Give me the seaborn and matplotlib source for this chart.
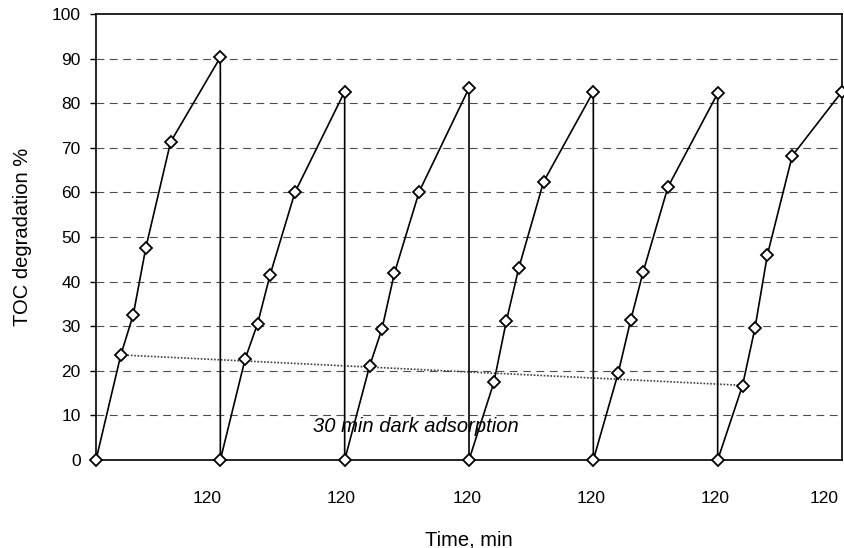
import numpy as np
import matplotlib.pyplot as plt
import matplotlib.transforms as mtransforms
import seaborn as sns

# one cycle: 30 min dark adsorption, then light at 15, 30, 60, 120 min
cycle_minutes = [0, 30, 45, 60, 90, 150]
cycle_length = 150

# TOC degradation %, six reuse cycles
cycle_1 = [0, 23.6, 32.6, 47.5, 71.3, 90.3]
cycle_2 = [0, 22.7, 30.6, 41.5, 60.0, 82.6]
cycle_3 = [0, 21.0, 29.4, 41.9, 60.2, 83.4]
cycle_4 = [0, 17.4, 31.1, 43.0, 62.4, 82.6]
cycle_5 = [0, 19.5, 31.3, 42.1, 61.2, 82.2]
cycle_6 = [0, 16.7, 29.6, 46.0, 68.2, 82.6]
cycles = [cycle_1, cycle_2, cycle_3, cycle_4, cycle_5, cycle_6]

tick_label = '120'
note = '30 min dark adsorption'

# ------------------------------------------------------------
times, values = [], []
for k, vals in enumerate(cycles):
    times += [k * cycle_length + t for t in cycle_minutes]
    values += vals

dark_t = np.array([k * cycle_length + cycle_minutes[1] for k in range(len(cycles))])
dark_v = np.array([c[1] for c in cycles])

sns.set_theme(style='white')
plt.rcParams['font.family'] = ['Liberation Sans', 'DejaVu Sans']

fig = plt.figure(figsize=(8.44, 5.48), dpi=100)
ax = fig.add_axes([96 / 844, 1 - 460 / 548, 746 / 844, 446 / 548])

# horizontal dashed grid
for yv in range(10, 100, 10):
    ax.axhline(yv, color='0.3', lw=0.8, ls=(0, (7, 5)), zorder=0)

# linear trend through the dark adsorption values
sns.regplot(x=dark_t, y=dark_v, ci=None, scatter=False, truncate=True, ax=ax,
            line_kws=dict(color='0.25', lw=1.2, ls=(0, (1, 1)), zorder=2))

sns.lineplot(x=times, y=values, estimator=None, sort=False, ax=ax,
             color='black', lw=1.2, marker='D', markersize=6.5,
             markerfacecolor='white', markeredgecolor='black',
             markeredgewidth=1.3, clip_on=False, zorder=3)

ax.set_xlim(0, cycle_length * len(cycles))
ax.set_ylim(0, 100)
ax.set_yticks(range(0, 101, 10))
ax.set_xticks([(k + 1) * cycle_length for k in range(len(cycles))])
ax.set_xticklabels([tick_label] * len(cycles))

ax.tick_params(axis='y', left=True, length=4, width=1, color='black',
               pad=7, labelsize=12.5, labelcolor='black')
ax.tick_params(axis='x', bottom=False, length=0, pad=22, labelsize=12.5,
               labelcolor='black')

# labels sit a little left of the cycle boundaries in the original
shifts = [-13, -4, -2, -2, -3, -18]
for lab, dx in zip(ax.get_xticklabels(), shifts):
    lab.set_transform(lab.get_transform() +
                      mtransforms.ScaledTranslation(dx / 100, 0, fig.dpi_scale_trans))

for sp in ax.spines.values():
    sp.set_color('black')
    sp.set_linewidth(1.2)
    sp.set_visible(True)

ax.text(262, 7.5, note, style='italic', fontsize=14.5, ha='left', va='center',
        color='black', zorder=4)

ax.set_xlabel('Time, min', fontsize=14.5, labelpad=18, color='black')
ax.set_ylabel('TOC degradation %', fontsize=14.5, labelpad=14, color='black')

fig.savefig('out.png', dpi=100)
